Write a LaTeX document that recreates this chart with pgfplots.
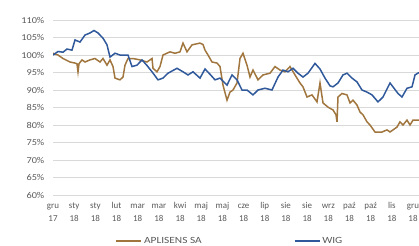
\documentclass[border=0pt]{standalone}
\usepackage{pgfplots}
\pgfplotsset{compat=1.18}
\usepackage{graphicx}
\usepackage{fontspec}
\setmainfont{Carlito}
\definecolor{wigblue}{RGB}{47,89,155}
\definecolor{apbrown}{RGB}{160,118,62}
\definecolor{lbl}{RGB}{89,89,89}
\definecolor{gridc}{RGB}{217,217,217}
\begin{document}
\begin{tikzpicture}
\begin{axis}[
  scale only axis, width=366bp, height=175bp,
  xmin=0, xmax=366, ymin=60, ymax=110,
  axis line style={draw=none}, tick style={draw=none},
  ytick={60,65,...,110},
  yticklabel={\pgfmathprintnumber{\tick}\%},
  ymajorgrids, grid style={gridc, line width=0.9bp},
  xtick={0,21.18,42.35,63.53,84.71,105.88,127.06,148.24,169.41,190.59,211.76,232.94,254.12,275.29,296.47,317.65,338.82,360},
  xticklabels={\strut gru\\17,\strut sty\\18,\strut sty\\18,\strut lut\\18,\strut mar\\18,\strut mar\\18,\strut kwi\\18,\strut maj\\18,\strut maj\\18,\strut cze\\18,\strut lip\\18,\strut sie\\18,\strut sie\\18,\strut wrz\\18,\strut pa\'z\\18,\strut pa\'z\\18,\strut lis\\18,\strut gru\\18},
  /pgf/number format/assume math mode=true,
  yticklabel style={font=\fontsize{9}{11}\selectfont, text=lbl, xscale=1.15, xshift=-4bp},
  xticklabel style={font=\fontsize{9}{13}\selectfont, text=lbl, align=center, anchor=north, yshift=-1bp},
  legend style={draw=none, fill=none, at={(rel axis cs:0.4836,0)}, yshift=-46bp, anchor=center,
    font=\fontsize{9.5}{11}\selectfont, text=lbl,
    /tikz/every even column/.append style={column sep=90bp}},
  legend columns=2,
  legend image code/.code={\draw[#1] (0bp,0bp) -- (25bp,0bp);},
]
\coordinate (O) at (rel axis cs:0,0);
\addplot[apbrown, line width=1.5bp] coordinates {
(0,100.5)(5,100)(10,99)(17,98)(22,97.7)(24,97.5)(25,95.2)(26,97.5)(29,98.6)(32,98)(37,98.6)(42,99)(47,98)(50,99)(54,97.1)(57,98.6)(60,96.7)(62,93.4)(67,92.9)(70,93.7)(72,97.1)(75,99)(80,99)(87,98.6)(94,98)(99,99)(100,96.2)(104,95.2)(107,96.7)(110,100)(117,100.9)(122,100.5)(127,100.9)(130,103.4)(134,100.9)(139,102.9)(147,103.4)(150,103)(152,101.4)(155,100)(159,98)(164,97.7)(167,96.7)(170,91.4)(174,87.1)(177,89.4)(180,90)(184,92)(187,99)(190,100.5)(194,97.1)(197,93.7)(200,95.7)(205,92.9)(210,94.3)(217,94.8)(222,96.7)(227,95.7)(232,95.2)(237,96.7)(242,94.3)(247,92)(250,90.9)(254,88)(259,88.6)(264,86.6)(267,92)(270,86.3)(275,85.1)(280,84.3)(283,82.9)(284,80.9)(285,88)(289,89)(294,88.6)(297,86.3)(300,87.1)(304,85.7)(307,83.7)(310,82.9)(314,80.9)(317,80)(322,78)(329,78)(334,78.6)(337,78)(340,78.6)(344,79.4)(347,80.9)(350,80)(354,81.4)(357,80)(360,81.4)(366,81.4)
};
\addlegendentry{\scalebox{1.2}[1]{APLISENS SA}}
\addplot[wigblue, line width=1.5bp] coordinates {
(0,100)(5,101)(10,100.8)(14,101.7)(19,101.4)(22,104.3)(27,103.7)(32,105.7)(37,106.3)(41,107)(45,106.3)(50,104.8)(54,102.9)(57,99.4)(62,100.5)(67,100)(75,100)(79,96.7)(84,97.1)(89,98.6)(94,97)(99,95.2)(105,92.9)(110,93.4)(115,94.8)(124,96.2)(130,95.2)(135,94.3)(140,95.2)(147,93.4)(152,96)(157,94.5)(162,92.9)(167,93.4)(174,91.4)(179,94.3)(184,92.9)(189,90)(194,90)(200,88.6)(205,90)(212,90.5)(219,90)(225,93.7)(230,95.7)(235,95.2)(240,96.2)(245,94.8)(250,93.7)(255,94.8)(262,97.6)(267,96)(272,93.4)(277,91.2)(280,90.9)(285,92)(290,94.3)(294,94.8)(299,93.4)(304,92.3)(309,90)(314,89.4)(319,88.6)(325,86.6)(330,88)(337,92)(340,90.9)(345,89)(349,88)(354,90.5)(359,90.9)(362,94.3)(366,95)
};
\addlegendentry{\scalebox{1.2}[1]{WIG}}
\end{axis}
\pgfresetboundingbox
\path (O) ++(-53bp,-51bp) rectangle ++(419bp,246bp);
\end{tikzpicture}
\end{document}
